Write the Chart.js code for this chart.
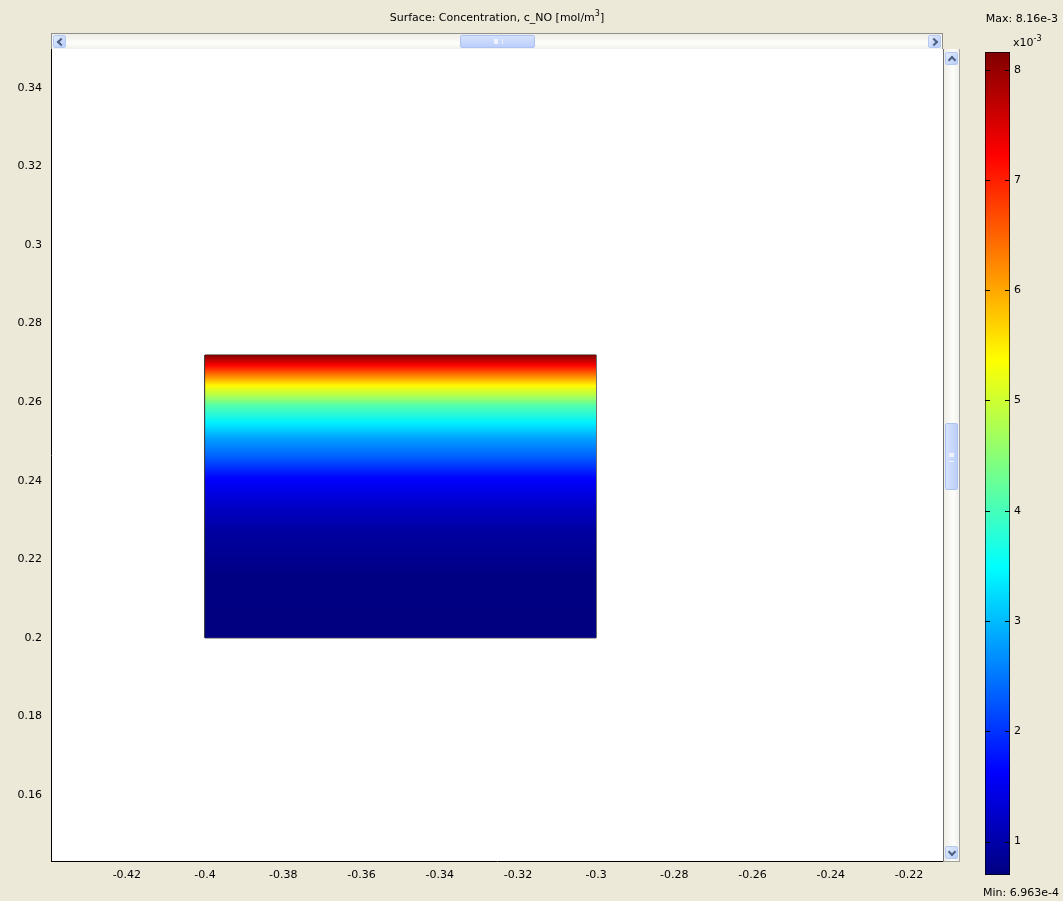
<!DOCTYPE html>
<html>
<head>
<meta charset="utf-8">
<title>Surface: Concentration, c_NO</title>
<script src="https://cdn.jsdelivr.net/npm/chart.js@4.4.1/dist/chart.umd.min.js"></script>
<style>
  html, body { margin: 0; padding: 0; background: #ECE9D8; }
  #wrap { position: relative; width: 1063px; height: 901px; overflow: hidden;
          font-family: "DejaVu Sans", sans-serif; color: #000; }
  #main { position: absolute; left: 0; top: 0; }
  #cbar { position: absolute; left: 975px; top: 40px; }
  .txt { position: absolute; white-space: nowrap; font-size: 11px; line-height: 13px; }
  .txt sup { font-size: 8px; line-height: 0; vertical-align: 5px; }
  #title { left: 51px; width: 892px; top: 11px; text-align: center; }
  #maxl { right: 5px; top: 12px; }
  #minl { right: 4px; top: 886px; }
  #scale { left: 1013px; top: 36px; }

  /* window-style scroll bars around the view */
  .hs { position: absolute; left: 51px; top: 33px; width: 892px; height: 16px; box-sizing: border-box;
        background: linear-gradient(#eeede5, #fdfdfb 60%, #f1f0ea); border: 1px solid #8f8f8f; border-bottom: none; }
  .vs { position: absolute; left: 943px; top: 49px; width: 17px; height: 813px; box-sizing: border-box;
        background: linear-gradient(90deg, #eeede5, #fdfdfb 60%, #f1f0ea); border-left: 1px solid #6f6f6f; border-right: 1px solid #a0a0a0; border-bottom: 1px solid #a0a0a0; }
  .btn { position: absolute; width: 13px; height: 13px; box-sizing: border-box; border-radius: 2px;
         background: linear-gradient(135deg, #e3ebfe, #b9cdf8); border: 1px solid #b4c8f4; }
  .thumb { position: absolute; box-sizing: border-box; border-radius: 2px;
           background: linear-gradient(#d5e1fe, #bccffa); border: 1px solid #aec2f2; }
  .hs .thumb { top: 1px; left: 408px; width: 75px; height: 13px; }
  .vs .thumb { left: 1px; top: 374px; width: 13px; height: 67px; background: linear-gradient(90deg, #d5e1fe, #bccffa); }
  .grip { position: absolute; border-color: #eef3ff; border-style: solid; }
  .hs .grip { left: 33px; top: 3px; width: 7px; height: 5px; border-width: 0 1px; box-shadow: 3px 0 0 -0px #eef3ff inset; }
  .vs .grip { left: 3px; top: 29px; width: 5px; height: 7px; border-width: 1px 0; box-shadow: 0 3px 0 0 #eef3ff inset; }
  .arr { position: absolute; width: 4px; height: 4px; border-left: 2px solid #4d6185; border-bottom: 2px solid #4d6185; }
</style>
</head>
<body>
<div id="wrap">
  <canvas id="main" width="1063" height="901"></canvas>
  <canvas id="cbar" width="88" height="860"></canvas>

  <div class="hs">
    <div class="btn" style="left:1px;top:1px;"><div class="arr" style="left:4px;top:3px;transform:rotate(45deg);"></div></div>
    <div class="thumb"><div class="grip"></div></div>
    <div class="btn" style="right:1px;top:1px;"><div class="arr" style="left:2px;top:3px;transform:rotate(-135deg);"></div></div>
  </div>
  <div class="vs">
    <div class="btn" style="left:1px;top:3px;"><div class="arr" style="left:3px;top:4px;transform:rotate(135deg);"></div></div>
    <div class="thumb"><div class="grip"></div></div>
    <div class="btn" style="left:1px;bottom:2px;"><div class="arr" style="left:3px;top:2px;transform:rotate(-45deg);"></div></div>
  </div>

  <div class="txt" id="title">Surface: Concentration, c_NO [mol/m<sup>3</sup>]</div>
  <div class="txt" id="maxl">Max: 8.16e-3</div>
  <div class="txt" id="scale">x10<sup>-3</sup></div>
  <div class="txt" id="minl">Min: 6.963e-4</div>
</div>

<script>
// Axis ranges of the view (m)
const xRange = [-0.4394, -0.2113];
const yRange = [0.1432, 0.3499];

// Tick positions and labels
const xTicks = [-0.42, -0.40, -0.38, -0.36, -0.34, -0.32, -0.30, -0.28, -0.26, -0.24, -0.22];
const xTickLabels = ['-0.42', '-0.4', '-0.38', '-0.36', '-0.34', '-0.32', '-0.3', '-0.28', '-0.26', '-0.24', '-0.22'];
const yTicks = [0.16, 0.18, 0.20, 0.22, 0.24, 0.26, 0.28, 0.30, 0.32, 0.34];
const yTickLabels = ['0.16', '0.18', '0.2', '0.22', '0.24', '0.26', '0.28', '0.3', '0.32', '0.34'];

// Domain: rectangle x in [-0.4, -0.3], y in [0.2, 0.272]
const domainX = [-0.4, -0.3];
const domainY = [0.2, 0.272];

// Concentration c_NO along the height of the domain (x10^-3 mol/m^3)
const profileY = [0.2721, 0.2693, 0.2668, 0.2642, 0.2617, 0.2591, 0.2548, 0.2507, 0.2464, 0.2405, 0.2336, 0.2268, 0.2150, 0.2000];
const profileC = [8.16, 7.20, 6.30, 5.40, 4.80, 4.10, 3.40, 2.80, 2.36, 1.63, 1.22, 0.93, 0.72, 0.6963];

// Colour scale limits and ticks (x10^-3 mol/m^3)
const cMin = 0.6963;
const cMax = 8.16;
const cTicks = [1, 2, 3, 4, 5, 6, 7, 8];

const tickFont = { family: 'DejaVu Sans', size: 11 };

// Jet colormap, t in [0, 1]
function jet(t) {
  t = Math.min(1, Math.max(0, t));
  const f = v => Math.round(255 * Math.min(1, Math.max(0, v)));
  return `rgb(${f(1.5 - Math.abs(4 * t - 3))},${f(1.5 - Math.abs(4 * t - 2))},${f(1.5 - Math.abs(4 * t - 1))})`;
}
const norm = c => (c - cMin) / (cMax - cMin);

// Vertical gradient of the surface built from the profile through the y scale
function surfaceFill(context) {
  const chart = context.chart;
  const area = chart.chartArea;
  if (!area) return jet(0.5);
  const ys = chart.scales.y;
  const top = ys.getPixelForValue(domainY[1]);
  const bottom = ys.getPixelForValue(domainY[0]);
  const g = chart.ctx.createLinearGradient(0, top, 0, bottom);
  profileY.forEach((y, i) => {
    const p = (ys.getPixelForValue(y) - top) / (bottom - top);
    g.addColorStop(Math.min(1, Math.max(0, p)), jet(norm(profileC[i])));
  });
  return g;
}

const whiteArea = {
  id: 'whiteArea',
  beforeDraw(chart) {
    const { ctx, chartArea: a } = chart;
    ctx.save();
    ctx.fillStyle = '#ffffff';
    ctx.fillRect(a.left, a.top, a.right - a.left, a.bottom - a.top);
    ctx.restore();
  }
};

new Chart(document.getElementById('main'), {
  type: 'scatter',
  data: {
    datasets: [
      {
        label: 'c_NO',
        data: [{ x: domainX[0], y: domainY[1] }, { x: domainX[1], y: domainY[1] }],
        showLine: true,
        fill: { value: domainY[0] },
        backgroundColor: surfaceFill,
        borderWidth: 0,
        pointRadius: 0,
        tension: 0
      },
      {
        label: 'boundary',
        data: [
          { x: domainX[0], y: domainY[0] }, { x: domainX[1], y: domainY[0] },
          { x: domainX[1], y: domainY[1] }, { x: domainX[0], y: domainY[1] },
          { x: domainX[0], y: domainY[0] }
        ],
        showLine: true,
        fill: false,
        borderColor: '#1a1a1a',
        borderWidth: 1,
        pointRadius: 0,
        tension: 0
      }
    ]
  },
  options: {
    responsive: false,
    animation: false,
    devicePixelRatio: 1,
    layout: { padding: { left: 0, top: 49, right: 120, bottom: 0 } },
    plugins: { legend: { display: false }, tooltip: { enabled: false }, title: { display: false } },
    scales: {
      x: {
        type: 'linear',
        min: xRange[0], max: xRange[1],
        afterFit: s => { s.height = 40; },
        afterBuildTicks: s => { s.ticks = xTicks.map(v => ({ value: v })); },
        grid: { display: false, drawTicks: false },
        border: { display: true, color: '#000', width: 1 },
        ticks: { autoSkip: false, maxRotation: 0, padding: 8, color: '#000', font: tickFont,
                 callback: (v, i) => xTickLabels[i] }
      },
      y: {
        type: 'linear',
        min: yRange[0], max: yRange[1],
        afterFit: s => { s.width = 51; },
        afterBuildTicks: s => { s.ticks = yTicks.map(v => ({ value: v })); },
        grid: { display: false, drawTicks: false },
        border: { display: true, color: '#000', width: 1 },
        ticks: { autoSkip: false, padding: 9, color: '#000', font: tickFont,
                 callback: (v, i) => yTickLabels[i] }
      }
    }
  },
  plugins: [whiteArea]
});

// Colour legend: one floating bar from cMin to cMax filled with the colormap
function legendFill(context) {
  const chart = context.chart;
  if (!chart.chartArea) return jet(0.5);
  const ys = chart.scales.y;
  const top = ys.getPixelForValue(cMax);
  const bottom = ys.getPixelForValue(cMin);
  const g = chart.ctx.createLinearGradient(0, bottom, 0, top);
  [0, 0.125, 0.375, 0.625, 0.875, 1].forEach(t => g.addColorStop(t, jet(t)));
  return g;
}

const legendTicks = {
  id: 'legendTicks',
  afterDatasetsDraw(chart) {
    const { ctx, chartArea: a, scales } = chart;
    ctx.save();
    ctx.strokeStyle = '#000';
    ctx.lineWidth = 1;
    cTicks.forEach(v => {
      const y = Math.round(scales.y.getPixelForValue(v)) + 0.5;
      ctx.beginPath();
      ctx.moveTo(a.left, y); ctx.lineTo(a.left + 5, y);
      ctx.moveTo(a.right - 5, y); ctx.lineTo(a.right, y);
      ctx.stroke();
    });
    ctx.restore();
  }
};

new Chart(document.getElementById('cbar'), {
  type: 'bar',
  data: {
    labels: ['c_NO'],
    datasets: [{
      data: [[cMin, cMax]],
      backgroundColor: legendFill,
      borderColor: '#000',
      borderWidth: 1,
      borderSkipped: false,
      categoryPercentage: 1,
      barPercentage: 1
    }]
  },
  options: {
    responsive: false,
    animation: false,
    devicePixelRatio: 1,
    layout: { padding: { left: 10, top: 12, right: 0, bottom: 25 } },
    plugins: { legend: { display: false }, tooltip: { enabled: false } },
    scales: {
      x: { display: false, offset: true },
      y: {
        position: 'right',
        min: cMin, max: cMax,
        afterFit: s => { s.width = 53; },
        afterBuildTicks: s => { s.ticks = cTicks.map(v => ({ value: v })); },
        grid: { display: false, drawTicks: false },
        border: { display: false },
        ticks: { autoSkip: false, padding: 4, color: '#000', font: tickFont,
                 callback: v => String(v) }
      }
    }
  },
  plugins: [legendTicks]
});
</script>
</body>
</html>
